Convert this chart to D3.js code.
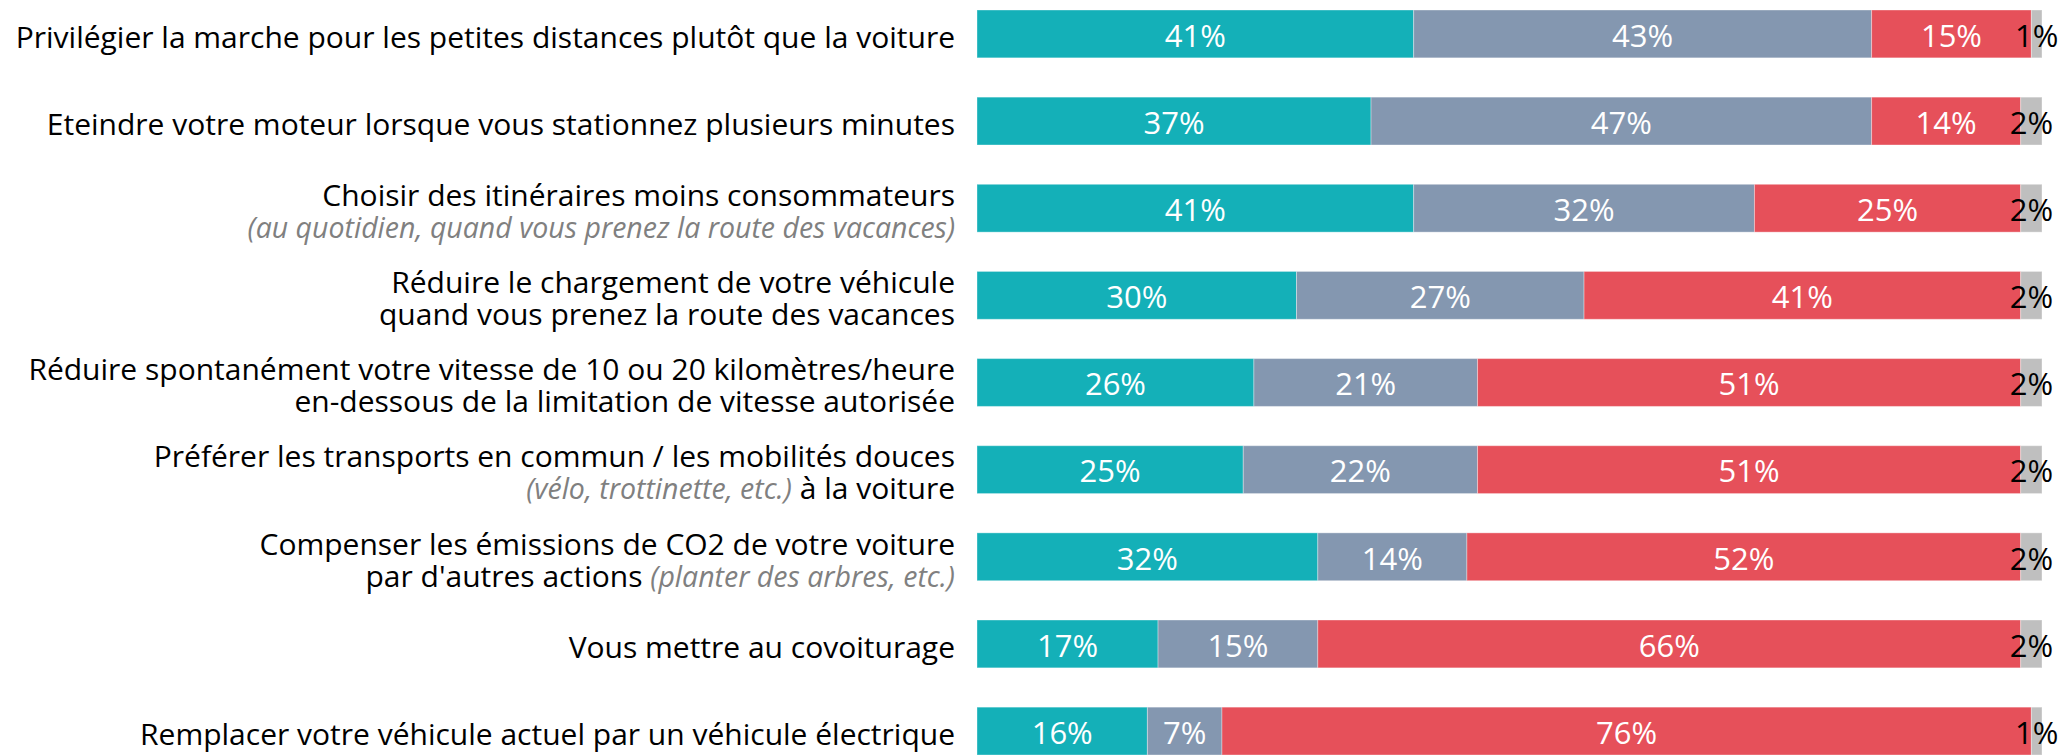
<!DOCTYPE html>
<html>
<head>
<meta charset="utf-8">
<script src="https://cdn.jsdelivr.net/npm/d3@7"></script>
<style>
  html, body { margin: 0; padding: 0; background: #fff; }
  svg { display: block; }
</style>
</head>
<body>
<svg id="chart" width="2059" height="755"></svg>
<script>
// Category labels: each line is a list of [text, isNote] segments
const categories = [
  [[["Privilégier la marche pour les petites distances plutôt que la voiture", false]]],
  [[["Eteindre votre moteur lorsque vous stationnez plusieurs minutes", false]]],
  [[["Choisir des itinéraires moins consommateurs", false]],
   [["(au quotidien, quand vous prenez la route des vacances)", true]]],
  [[["Réduire le chargement de votre véhicule", false]],
   [["quand vous prenez la route des vacances", false]]],
  [[["Réduire spontanément votre vitesse de 10 ou 20 kilomètres/heure", false]],
   [["en-dessous de la limitation de vitesse autorisée", false]]],
  [[["Préférer les transports en commun / les mobilités douces", false]],
   [["(vélo, trottinette, etc.)", true], [" à la voiture", false]]],
  [[["Compenser les émissions de CO2 de votre voiture", false]],
   [["par d'autres actions ", false], ["(planter des arbres, etc.)", true]]],
  [[["Vous mettre au covoiturage", false]]],
  [[["Remplacer votre véhicule actuel par un véhicule électrique", false]]]
];

// Series values (%), one per category
const serie1 = [41, 37, 41, 30, 26, 25, 32, 17, 16];
const serie2 = [43, 47, 32, 27, 21, 22, 14, 15, 7];
const serie3 = [15, 14, 25, 41, 51, 51, 52, 66, 76];
const serie4 = [1, 2, 2, 2, 2, 2, 2, 2, 1];

const seriesColors = ["#14B0B8", "#8497B0", "#E6505A", "#BFBFBF"];
const labelColors = ["#fff", "#fff", "#fff", "#000"];

const svg = d3.select("#chart");
const FONT = "'Open Sans', 'Noto Sans', sans-serif";

const x = d3.scaleLinear().domain([0, 100]).range([977, 2042]);
const y = d3.scaleBand()
  .domain(d3.range(categories.length))
  .range([10, 755])
  .paddingInner(0.451)
  .paddingOuter(0);

const series = [serie1, serie2, serie3, serie4];
const stacked = d3.stack()
  .keys(d3.range(series.length))
  .value((d, k) => series[k][d])(d3.range(categories.length));

// Bars
const layers = svg.append("g").selectAll("g")
  .data(stacked)
  .join("g")
  .attr("fill", (d, i) => seriesColors[i]);

layers.selectAll("rect")
  .data(d => d)
  .join("rect")
  .attr("x", d => x(d[0]))
  .attr("y", d => y(d.data))
  .attr("width", d => x(d[1]) - x(d[0]))
  .attr("height", y.bandwidth())
  .attr("stroke", "rgba(255,255,255,0.35)")
  .attr("stroke-width", 1);

// Value labels
layers.each(function (layer, i) {
  d3.select(this).selectAll("text")
    .data(layer)
    .join("text")
    .attr("x", d => (x(d[0]) + x(d[1])) / 2)
    .attr("y", d => y(d.data) + y.bandwidth() / 2 + 2)
    .attr("dy", "0.35em")
    .attr("text-anchor", "middle")
    .attr("font-family", FONT)
    .attr("font-size", 31)
    .attr("fill", labelColors[i])
    .text(d => (d[1] - d[0]) + "%");
});

// Category labels, one text per line
const lineGap = 32;
const labelX = 955;
const labelRows = svg.append("g").selectAll("g")
  .data(categories)
  .join("g");

labelRows.each(function (lines, i) {
  const cy = y(i) + y.bandwidth() / 2 + 3;
  const top = cy - (lines.length - 1) * lineGap / 2;
  d3.select(this).selectAll("text")
    .data(lines)
    .join("text")
    .attr("x", labelX)
    .attr("y", (d, li) => top + li * lineGap)
    .attr("dy", "0.36em")
    .attr("text-anchor", "end")
    .attr("font-family", FONT)
    .attr("font-size", 30)
    .attr("fill", "#000")
    .selectAll("tspan")
    .data(d => d)
    .join("tspan")
    .attr("font-style", d => d[1] ? "italic" : null)
    .attr("font-size", d => d[1] ? 28.5 : null)
    .attr("fill", d => d[1] ? "#808080" : null)
    .text(d => d[0]);
});
</script>
</body>
</html>
